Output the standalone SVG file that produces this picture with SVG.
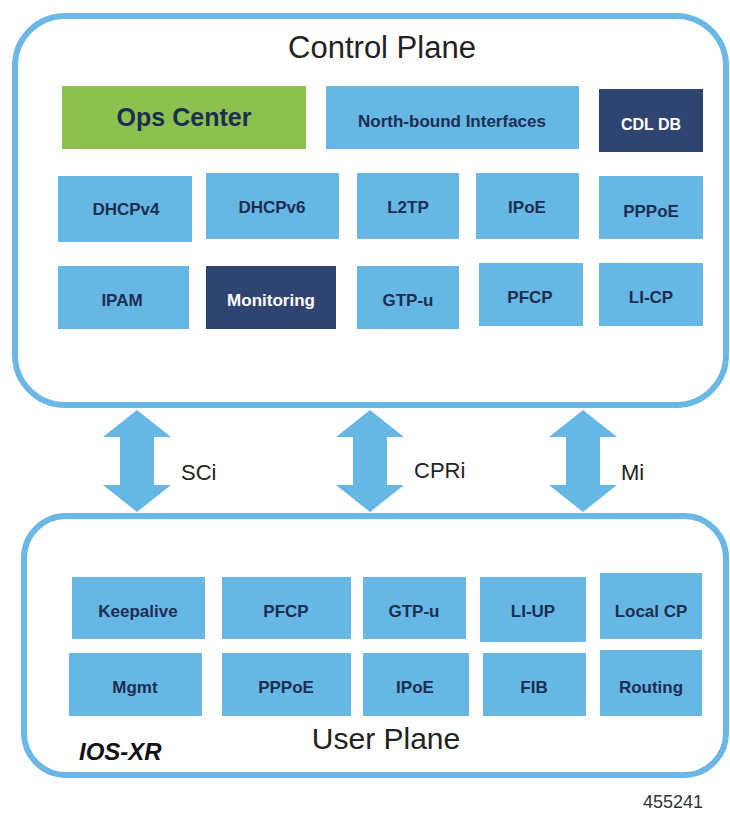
<svg xmlns="http://www.w3.org/2000/svg" width="730" height="815" viewBox="0 0 730 815">
<style>
.plane{fill:#fff;stroke:#6BB8E6;stroke-width:6}
.lb{fill:#67B7E5}
.dk{fill:#2F4470}
.gr{fill:#8DC14F}
.t{font-family:"Liberation Sans",Arial,sans-serif;font-weight:bold;font-size:17px;fill:#1C2E52;text-anchor:middle}
.tw{fill:#fff}
.title{font-family:"Liberation Sans",Arial,sans-serif;font-size:30px;fill:#222;text-anchor:middle}
.if{font-family:"Liberation Sans",Arial,sans-serif;font-size:22px;fill:#222}
.arr{fill:#67B7E5}
</style>
<rect width="730" height="815" fill="#fff"/>
<g id="control-plane">
<rect class="plane" x="15" y="16" width="711" height="389" rx="50"/>
<text class="title" x="382" y="58" style="font-size:31px">Control Plane</text>
</g>
<g id="user-plane">
<rect class="plane" x="24" y="516" width="702" height="259" rx="42"/>
<text class="title" x="386" y="749">User Plane</text>
<text x="79" y="760" style="font-family:'Liberation Sans',Arial,sans-serif;font-weight:bold;font-style:italic;font-size:24px;fill:#111">IOS-XR</text>
</g>
<g id="ops-center"><rect class="gr" x="62" y="86" width="244" height="63"/><text class="t" x="184" y="126" style="font-size:25px">Ops Center</text></g>
<g id="north-bound"><rect class="lb" x="326" y="86" width="253" height="63"/><text class="t" x="452" y="127">North-bound Interfaces</text></g>
<g id="cdl-db"><rect class="dk" x="599" y="89" width="104" height="63"/><text class="t tw" x="651" y="130" style="font-size:16px">CDL DB</text></g>
<g id="dhcpv4"><rect class="lb" x="58" y="176" width="134" height="66"/><text class="t" x="126" y="215">DHCPv4</text></g>
<g id="dhcpv6"><rect class="lb" x="206" y="173" width="133" height="66"/><text class="t" x="272" y="213">DHCPv6</text></g>
<g id="l2tp"><rect class="lb" x="357" y="173" width="102" height="66"/><text class="t" x="408" y="213">L2TP</text></g>
<g id="ipoe-cp"><rect class="lb" x="476" y="173" width="103" height="66"/><text class="t" x="527" y="213">IPoE</text></g>
<g id="pppoe-cp"><rect class="lb" x="599" y="176" width="104" height="63"/><text class="t" x="651" y="217">PPPoE</text></g>
<g id="ipam"><rect class="lb" x="58" y="266" width="131" height="63"/><text class="t" x="122" y="306">IPAM</text></g>
<g id="monitoring"><rect class="dk" x="206" y="266" width="130" height="63"/><text class="t tw" x="271" y="306">Monitoring</text></g>
<g id="gtpu-cp"><rect class="lb" x="357" y="266" width="102" height="63"/><text class="t" x="408" y="306">GTP-u</text></g>
<g id="pfcp-cp"><rect class="lb" x="479" y="263" width="104" height="63"/><text class="t" x="530" y="303">PFCP</text></g>
<g id="li-cp"><rect class="lb" x="599" y="263" width="104" height="63"/><text class="t" x="651" y="303">LI-CP</text></g>
<g id="keepalive"><rect class="lb" x="72" y="577" width="133" height="62"/><text class="t" x="138" y="617">Keepalive</text></g>
<g id="pfcp-up"><rect class="lb" x="222" y="577" width="129" height="62"/><text class="t" x="286" y="617">PFCP</text></g>
<g id="gtpu-up"><rect class="lb" x="363" y="577" width="103" height="62"/><text class="t" x="414" y="617">GTP-u</text></g>
<g id="li-up"><rect class="lb" x="480" y="577" width="106" height="65"/><text class="t" x="533" y="617">LI-UP</text></g>
<g id="local-cp"><rect class="lb" x="600" y="573" width="102" height="66"/><text class="t" x="651" y="617">Local CP</text></g>
<g id="mgmt"><rect class="lb" x="69" y="653" width="133" height="63"/><text class="t" x="135" y="693">Mgmt</text></g>
<g id="pppoe-up"><rect class="lb" x="222" y="653" width="129" height="63"/><text class="t" x="286" y="693">PPPoE</text></g>
<g id="ipoe-up"><rect class="lb" x="363" y="653" width="106" height="63"/><text class="t" x="415" y="693">IPoE</text></g>
<g id="fib"><rect class="lb" x="483" y="653" width="103" height="63"/><text class="t" x="534" y="693">FIB</text></g>
<g id="routing"><rect class="lb" x="600" y="650" width="102" height="66"/><text class="t" x="651" y="693">Routing</text></g>
<g id="connectors">
<polygon class="arr" points="137,410 171,437 154,437 154,485 171,485 137,512 103,485 120,485 120,437 103,437"/>
<polygon class="arr" points="370,410 404,437 387,437 387,485 404,485 370,512 336,485 353,485 353,437 336,437"/>
<polygon class="arr" points="583,410 617,437 600,437 600,485 617,485 583,512 549,485 566,485 566,437 549,437"/>
<text class="if" x="181" y="480">SCi</text>
<text class="if" x="414" y="478">CPRi</text>
<text class="if" x="621" y="480">Mi</text>
</g>
<text x="703" y="808" style="font-family:'Liberation Sans',Arial,sans-serif;font-size:18px;fill:#333;text-anchor:end">455241</text>
</svg>
